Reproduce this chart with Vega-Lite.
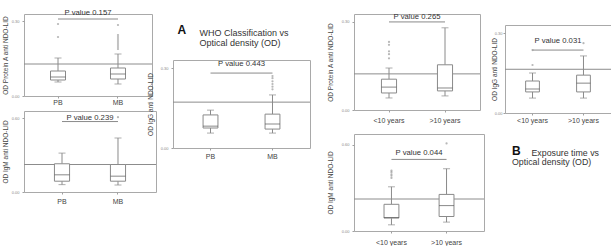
{
  "$schema": "https://vega.github.io/schema/vega-lite/v6.json",
  "padding": {"left": 1, "top": 8, "right": 0, "bottom": 0},
  "background": "white",
  "datasets": {
    "boxes": [
      {"panel": "p1", "group": "PB", "lower": 0.056, "q1": 0.064, "median": 0.076, "q3": 0.1, "upper": 0.152},
      {"panel": "p1", "group": "MB", "lower": 0.048, "q1": 0.068, "median": 0.088, "q3": 0.112, "upper": 0.168},
      {"panel": "p2", "group": "PB", "lower": 0.06, "q1": 0.088, "median": 0.14, "q3": 0.23, "upper": 0.317},
      {"panel": "p2", "group": "MB", "lower": 0.057, "q1": 0.088, "median": 0.129, "q3": 0.224, "upper": 0.44},
      {"panel": "p3", "group": "PB", "lower": 0.056, "q1": 0.075, "median": 0.082, "q3": 0.124, "upper": 0.142},
      {"panel": "p3", "group": "MB", "lower": 0.056, "q1": 0.071, "median": 0.09, "q3": 0.127, "upper": 0.199},
      {"panel": "p4", "group": "<10 years", "lower": 0.041, "q1": 0.058, "median": 0.078, "q3": 0.105, "upper": 0.143},
      {"panel": "p4", "group": ">10 years", "lower": 0.048, "q1": 0.065, "median": 0.075, "q3": 0.154, "upper": 0.28},
      {"panel": "p5", "group": "<10 years", "lower": 0.056, "q1": 0.079, "median": 0.09, "q3": 0.12, "upper": 0.15},
      {"panel": "p5", "group": ">10 years", "lower": 0.056, "q1": 0.079, "median": 0.112, "q3": 0.142, "upper": 0.214},
      {"panel": "p6", "group": "<10 years", "lower": 0.043, "q1": 0.09, "median": 0.094, "q3": 0.186, "upper": 0.308},
      {"panel": "p6", "group": ">10 years", "lower": 0.062, "q1": 0.101, "median": 0.177, "q3": 0.255, "upper": 0.434}
    ],
    "outliers": [
      {"panel": "p1", "group": "PB", "value": 0.288},
      {"panel": "p1", "group": "PB", "value": 0.236},
      {"panel": "p1", "group": "MB", "value": 0.284},
      {"panel": "p1", "group": "MB", "value": 0.244},
      {"panel": "p1", "group": "MB", "value": 0.236},
      {"panel": "p1", "group": "MB", "value": 0.228},
      {"panel": "p1", "group": "MB", "value": 0.22},
      {"panel": "p1", "group": "MB", "value": 0.212},
      {"panel": "p1", "group": "MB", "value": 0.204},
      {"panel": "p1", "group": "MB", "value": 0.196},
      {"panel": "p1", "group": "MB", "value": 0.188},
      {"panel": "p2", "group": "MB", "value": 0.61},
      {"panel": "p3", "group": "MB", "value": 0.27},
      {"panel": "p3", "group": "MB", "value": 0.262},
      {"panel": "p3", "group": "MB", "value": 0.25},
      {"panel": "p3", "group": "MB", "value": 0.24},
      {"panel": "p3", "group": "MB", "value": 0.23},
      {"panel": "p3", "group": "MB", "value": 0.22},
      {"panel": "p4", "group": "<10 years", "value": 0.232},
      {"panel": "p4", "group": "<10 years", "value": 0.222},
      {"panel": "p4", "group": "<10 years", "value": 0.2},
      {"panel": "p4", "group": "<10 years", "value": 0.19},
      {"panel": "p4", "group": "<10 years", "value": 0.176},
      {"panel": "p5", "group": "<10 years", "value": 0.18},
      {"panel": "p5", "group": "<10 years", "value": 0.236},
      {"panel": "p5", "group": ">10 years", "value": 0.262},
      {"panel": "p6", "group": "<10 years", "value": 0.42},
      {"panel": "p6", "group": "<10 years", "value": 0.41},
      {"panel": "p6", "group": "<10 years", "value": 0.395},
      {"panel": "p6", "group": "<10 years", "value": 0.385},
      {"panel": "p6", "group": "<10 years", "value": 0.37},
      {"panel": "p6", "group": ">10 years", "value": 0.61}
    ],
    "refs": [
      {"panel": "p1", "cutoff": 0.128, "from": "PB", "to": "MB", "lineY": 0.308, "pY": 0.332, "pLabel": "P value 0.157"},
      {"panel": "p2", "cutoff": 0.224, "from": "PB", "to": "MB", "lineY": 0.574, "pY": 0.607, "pLabel": "P value 0.239"},
      {"panel": "p3", "cutoff": 0.172, "from": "PB", "to": "MB", "lineY": 0.281, "pY": 0.315, "pLabel": "P value 0.443"},
      {"panel": "p4", "cutoff": 0.123, "from": "<10 years", "to": ">10 years", "lineY": 0.3, "pY": 0.316, "pLabel": "P value 0.265"},
      {"panel": "p5", "cutoff": 0.164, "from": "<10 years", "to": ">10 years", "lineY": 0.236, "pY": 0.27, "pLabel": "P value 0.031"},
      {"panel": "p6", "cutoff": 0.223, "from": "<10 years", "to": ">10 years", "lineY": 0.499, "pY": 0.545, "pLabel": "P value 0.044"}
    ],
    "spacer": [{"k": 0}]
  },
  "hconcat": [
    {
      "spacing": -11,
      "hconcat": [
        {
          "spacing": 4,
          "vconcat": [
            {
              "width": 128, "height": 82,
              "layer": [
                {"data": {"name": "refs"}, "transform": [{"filter": "datum.panel === 'p1'"}], "mark": {"type": "rule", "color": "#8c8c8c"},
                 "encoding": {"y": {"field": "cutoff", "type": "quantitative", "title": "OD Protein A anti NDO-LID", "scale": {"domain": [0, 0.328], "nice": false}, "axis": {"values": [0, 0.1, 0.2, 0.3], "format": ".2f", "titlePadding": 3}}}},
                {"data": {"name": "boxes"}, "transform": [{"filter": "datum.panel === 'p1'"}],
                 "encoding": {"x": {"field": "group", "type": "nominal", "title": null, "scale": {"domain": ["PB", "MB"], "paddingInner": 0, "paddingOuter": 0.067}, "axis": {"labelPadding": 0}}},
                 "layer": [
                   {"mark": {"type": "rule", "color": "#8a8a8a"}, "encoding": {"y": {"field": "lower", "type": "quantitative"}, "y2": {"field": "q1"}}},
                   {"mark": {"type": "rule", "color": "#8a8a8a"}, "encoding": {"y": {"field": "q3", "type": "quantitative"}, "y2": {"field": "upper"}}},
                   {"mark": {"type": "bar", "width": {"band": 0.25}, "fill": "white", "stroke": "#8a8a8a", "strokeWidth": 1}, "encoding": {"y": {"field": "q1", "type": "quantitative"}, "y2": {"field": "q3"}}},
                   {"mark": {"type": "tick", "size": 15, "thickness": 1, "color": "#555"}, "encoding": {"y": {"field": "median", "type": "quantitative"}}},
                   {"mark": {"type": "tick", "size": 7, "thickness": 1, "color": "#8a8a8a"}, "encoding": {"y": {"field": "lower", "type": "quantitative"}}},
                   {"mark": {"type": "tick", "size": 7, "thickness": 1, "color": "#8a8a8a"}, "encoding": {"y": {"field": "upper", "type": "quantitative"}}}
                 ]},
                {"data": {"name": "outliers"}, "transform": [{"filter": "datum.panel === 'p1'"}], "mark": {"type": "point", "size": 5, "filled": true, "color": "#999"},
                 "encoding": {"x": {"field": "group", "type": "nominal", "title": null}, "y": {"field": "value", "type": "quantitative"}}},
                {"data": {"name": "refs"}, "transform": [{"filter": "datum.panel === 'p1'"}], "mark": {"type": "rule", "color": "#8a8a8a"},
                 "encoding": {"x": {"field": "from", "type": "nominal", "title": null}, "x2": {"field": "to"}, "y": {"field": "lineY", "type": "quantitative"}}},
                {"data": {"name": "refs"}, "transform": [{"filter": "datum.panel === 'p1'"}], "mark": {"type": "text", "fontSize": 7.7, "color": "#333", "baseline": "middle"},
                 "encoding": {"x": {"field": "from", "type": "nominal", "title": null, "bandPosition": 1}, "y": {"field": "pY", "type": "quantitative"}, "text": {"field": "pLabel"}}}
              ]
            },
            {
              "width": 132, "height": 81,
              "layer": [
                {"data": {"name": "refs"}, "transform": [{"filter": "datum.panel === 'p2'"}], "mark": {"type": "rule", "color": "#8c8c8c"},
                 "encoding": {"y": {"field": "cutoff", "type": "quantitative", "title": "OD IgM anti NDO-LID", "scale": {"domain": [0, 0.66], "nice": false}, "axis": {"values": [0, 0.1, 0.2, 0.3, 0.4, 0.5, 0.6], "format": ".2f", "titlePadding": 3}}}},
                {"data": {"name": "boxes"}, "transform": [{"filter": "datum.panel === 'p2'"}],
                 "encoding": {"x": {"field": "group", "type": "nominal", "title": null, "scale": {"domain": ["PB", "MB"], "paddingInner": 0, "paddingOuter": 0.179}, "axis": {"labelPadding": 3}}},
                 "layer": [
                   {"mark": {"type": "rule", "color": "#8a8a8a"}, "encoding": {"y": {"field": "lower", "type": "quantitative"}, "y2": {"field": "q1"}}},
                   {"mark": {"type": "rule", "color": "#8a8a8a"}, "encoding": {"y": {"field": "q3", "type": "quantitative"}, "y2": {"field": "upper"}}},
                   {"mark": {"type": "bar", "width": {"band": 0.27}, "fill": "white", "stroke": "#8a8a8a", "strokeWidth": 1}, "encoding": {"y": {"field": "q1", "type": "quantitative"}, "y2": {"field": "q3"}}},
                   {"mark": {"type": "tick", "size": 15, "thickness": 1, "color": "#555"}, "encoding": {"y": {"field": "median", "type": "quantitative"}}},
                   {"mark": {"type": "tick", "size": 7, "thickness": 1, "color": "#8a8a8a"}, "encoding": {"y": {"field": "lower", "type": "quantitative"}}},
                   {"mark": {"type": "tick", "size": 7, "thickness": 1, "color": "#8a8a8a"}, "encoding": {"y": {"field": "upper", "type": "quantitative"}}}
                 ]},
                {"data": {"name": "outliers"}, "transform": [{"filter": "datum.panel === 'p2'"}], "mark": {"type": "point", "size": 5, "filled": true, "color": "#999"},
                 "encoding": {"x": {"field": "group", "type": "nominal", "title": null}, "y": {"field": "value", "type": "quantitative"}}},
                {"data": {"name": "refs"}, "transform": [{"filter": "datum.panel === 'p2'"}], "mark": {"type": "rule", "color": "#8a8a8a"},
                 "encoding": {"x": {"field": "from", "type": "nominal", "title": null}, "x2": {"field": "to"}, "y": {"field": "lineY", "type": "quantitative"}}},
                {"data": {"name": "refs"}, "transform": [{"filter": "datum.panel === 'p2'"}], "mark": {"type": "text", "fontSize": 7.7, "color": "#333", "baseline": "middle"},
                 "encoding": {"x": {"field": "from", "type": "nominal", "title": null, "bandPosition": 1}, "y": {"field": "pY", "type": "quantitative"}, "text": {"field": "pLabel"}}}
              ]
            }
          ]
        },
        {
          "spacing": -8,
          "vconcat": [
            {
              "width": 137, "height": 1,
              "view": {"stroke": null},
              "title": {"text": "A", "orient": "bottom", "anchor": "start", "frame": "group", "dx": 4.5, "offset": 10, "fontSize": 12, "fontWeight": "bold", "color": "#111"},
              "data": {"name": "spacer"},
              "mark": {"type": "text", "text": "", "fontSize": 0},
              "encoding": {}
            },
            {
              "width": 137, "height": 88,
              "title": {"text": ["WHO Classification vs", "Optical density (OD)"], "anchor": "start", "frame": "group", "dx": 26.5, "fontSize": 9, "fontWeight": "normal", "lineHeight": 10, "color": "#333", "offset": 12},
              "layer": [
                {"data": {"name": "refs"}, "transform": [{"filter": "datum.panel === 'p3'"}], "mark": {"type": "rule", "color": "#8c8c8c"},
                 "encoding": {"y": {"field": "cutoff", "type": "quantitative", "title": "OD IgG anti NDO-LID", "scale": {"domain": [0, 0.33], "nice": false}, "axis": {"values": [0, 0.1, 0.2, 0.3], "format": ".2f", "titlePadding": 7}}}},
                {"data": {"name": "boxes"}, "transform": [{"filter": "datum.panel === 'p3'"}],
                 "encoding": {"x": {"field": "group", "type": "nominal", "title": null, "scale": {"domain": ["PB", "MB"], "paddingInner": 0, "paddingOuter": 0.105}, "axis": {"labelPadding": 2}}},
                 "layer": [
                   {"mark": {"type": "rule", "color": "#8a8a8a"}, "encoding": {"y": {"field": "lower", "type": "quantitative"}, "y2": {"field": "q1"}}},
                   {"mark": {"type": "rule", "color": "#8a8a8a"}, "encoding": {"y": {"field": "q3", "type": "quantitative"}, "y2": {"field": "upper"}}},
                   {"mark": {"type": "bar", "width": {"band": 0.24}, "fill": "white", "stroke": "#8a8a8a", "strokeWidth": 1}, "encoding": {"y": {"field": "q1", "type": "quantitative"}, "y2": {"field": "q3"}}},
                   {"mark": {"type": "tick", "size": 15, "thickness": 1, "color": "#555"}, "encoding": {"y": {"field": "median", "type": "quantitative"}}},
                   {"mark": {"type": "tick", "size": 7, "thickness": 1, "color": "#8a8a8a"}, "encoding": {"y": {"field": "lower", "type": "quantitative"}}},
                   {"mark": {"type": "tick", "size": 7, "thickness": 1, "color": "#8a8a8a"}, "encoding": {"y": {"field": "upper", "type": "quantitative"}}}
                 ]},
                {"data": {"name": "outliers"}, "transform": [{"filter": "datum.panel === 'p3'"}], "mark": {"type": "point", "size": 5, "filled": true, "color": "#999"},
                 "encoding": {"x": {"field": "group", "type": "nominal", "title": null}, "y": {"field": "value", "type": "quantitative"}}},
                {"data": {"name": "refs"}, "transform": [{"filter": "datum.panel === 'p3'"}], "mark": {"type": "rule", "color": "#8a8a8a"},
                 "encoding": {"x": {"field": "from", "type": "nominal", "title": null}, "x2": {"field": "to"}, "y": {"field": "lineY", "type": "quantitative"}}},
                {"data": {"name": "refs"}, "transform": [{"filter": "datum.panel === 'p3'"}], "mark": {"type": "text", "fontSize": 7.7, "color": "#333", "baseline": "middle"},
                 "encoding": {"x": {"field": "from", "type": "nominal", "title": null, "bandPosition": 1}, "y": {"field": "pY", "type": "quantitative"}, "text": {"field": "pLabel"}}}
              ]
            }
          ]
        }
      ]
    },
    {
      "spacing": 5,
      "hconcat": [
        {
          "spacing": 9,
          "vconcat": [
            {
              "width": 126, "height": 96,
              "layer": [
                {"data": {"name": "refs"}, "transform": [{"filter": "datum.panel === 'p4'"}], "mark": {"type": "rule", "color": "#8c8c8c"},
                 "encoding": {"y": {"field": "cutoff", "type": "quantitative", "title": "OD Protein A anti NDO-LID", "scale": {"domain": [0, 0.327], "nice": false}, "axis": {"values": [0, 0.1, 0.2, 0.3], "format": ".2f", "titlePadding": 8}}}},
                {"data": {"name": "boxes"}, "transform": [{"filter": "datum.panel === 'p4'"}],
                 "encoding": {"x": {"field": "group", "type": "nominal", "title": null, "scale": {"domain": ["<10 years", ">10 years"], "paddingInner": 0, "paddingOuter": 0.125}, "axis": {"labelPadding": 4}}},
                 "layer": [
                   {"mark": {"type": "rule", "color": "#8a8a8a"}, "encoding": {"y": {"field": "lower", "type": "quantitative"}, "y2": {"field": "q1"}}},
                   {"mark": {"type": "rule", "color": "#8a8a8a"}, "encoding": {"y": {"field": "q3", "type": "quantitative"}, "y2": {"field": "upper"}}},
                   {"mark": {"type": "bar", "width": {"band": 0.27}, "fill": "white", "stroke": "#8a8a8a", "strokeWidth": 1}, "encoding": {"y": {"field": "q1", "type": "quantitative"}, "y2": {"field": "q3"}}},
                   {"mark": {"type": "tick", "size": 15, "thickness": 1, "color": "#555"}, "encoding": {"y": {"field": "median", "type": "quantitative"}}},
                   {"mark": {"type": "tick", "size": 7, "thickness": 1, "color": "#8a8a8a"}, "encoding": {"y": {"field": "lower", "type": "quantitative"}}},
                   {"mark": {"type": "tick", "size": 7, "thickness": 1, "color": "#8a8a8a"}, "encoding": {"y": {"field": "upper", "type": "quantitative"}}}
                 ]},
                {"data": {"name": "outliers"}, "transform": [{"filter": "datum.panel === 'p4'"}], "mark": {"type": "point", "size": 5, "filled": true, "color": "#999"},
                 "encoding": {"x": {"field": "group", "type": "nominal", "title": null}, "y": {"field": "value", "type": "quantitative"}}},
                {"data": {"name": "refs"}, "transform": [{"filter": "datum.panel === 'p4'"}], "mark": {"type": "rule", "color": "#8a8a8a"},
                 "encoding": {"x": {"field": "from", "type": "nominal", "title": null}, "x2": {"field": "to"}, "y": {"field": "lineY", "type": "quantitative"}}},
                {"data": {"name": "refs"}, "transform": [{"filter": "datum.panel === 'p4'"}], "mark": {"type": "text", "fontSize": 7.7, "color": "#333", "baseline": "middle"},
                 "encoding": {"x": {"field": "from", "type": "nominal", "title": null, "bandPosition": 1}, "y": {"field": "pY", "type": "quantitative"}, "text": {"field": "pLabel"}}}
              ]
            },
            {
              "width": 130, "height": 97,
              "layer": [
                {"data": {"name": "refs"}, "transform": [{"filter": "datum.panel === 'p6'"}], "mark": {"type": "rule", "color": "#8c8c8c"},
                 "encoding": {"y": {"field": "cutoff", "type": "quantitative", "title": "OD IgM anti NDO-LID", "scale": {"domain": [0, 0.676], "nice": false}, "axis": {"values": [0, 0.1, 0.2, 0.3, 0.4, 0.5, 0.6], "format": ".2f", "titlePadding": 8}}}},
                {"data": {"name": "boxes"}, "transform": [{"filter": "datum.panel === 'p6'"}],
                 "encoding": {"x": {"field": "group", "type": "nominal", "title": null, "scale": {"domain": ["<10 years", ">10 years"], "paddingInner": 0, "paddingOuter": 0.18}, "axis": {"labelPadding": 5}}},
                 "layer": [
                   {"mark": {"type": "rule", "color": "#8a8a8a"}, "encoding": {"y": {"field": "lower", "type": "quantitative"}, "y2": {"field": "q1"}}},
                   {"mark": {"type": "rule", "color": "#8a8a8a"}, "encoding": {"y": {"field": "q3", "type": "quantitative"}, "y2": {"field": "upper"}}},
                   {"mark": {"type": "bar", "width": {"band": 0.27}, "fill": "white", "stroke": "#8a8a8a", "strokeWidth": 1}, "encoding": {"y": {"field": "q1", "type": "quantitative"}, "y2": {"field": "q3"}}},
                   {"mark": {"type": "tick", "size": 15, "thickness": 1, "color": "#555"}, "encoding": {"y": {"field": "median", "type": "quantitative"}}},
                   {"mark": {"type": "tick", "size": 7, "thickness": 1, "color": "#8a8a8a"}, "encoding": {"y": {"field": "lower", "type": "quantitative"}}},
                   {"mark": {"type": "tick", "size": 7, "thickness": 1, "color": "#8a8a8a"}, "encoding": {"y": {"field": "upper", "type": "quantitative"}}}
                 ]},
                {"data": {"name": "outliers"}, "transform": [{"filter": "datum.panel === 'p6'"}], "mark": {"type": "point", "size": 5, "filled": true, "color": "#999"},
                 "encoding": {"x": {"field": "group", "type": "nominal", "title": null}, "y": {"field": "value", "type": "quantitative"}}},
                {"data": {"name": "refs"}, "transform": [{"filter": "datum.panel === 'p6'"}], "mark": {"type": "rule", "color": "#8a8a8a"},
                 "encoding": {"x": {"field": "from", "type": "nominal", "title": null}, "x2": {"field": "to"}, "y": {"field": "lineY", "type": "quantitative"}}},
                {"data": {"name": "refs"}, "transform": [{"filter": "datum.panel === 'p6'"}], "mark": {"type": "text", "fontSize": 7.7, "color": "#333", "baseline": "middle"},
                 "encoding": {"x": {"field": "from", "type": "nominal", "title": null, "bandPosition": 1}, "y": {"field": "pY", "type": "quantitative"}, "text": {"field": "pLabel"}}}
              ]
            }
          ]
        },
        {
          "spacing": 9,
          "vconcat": [
            {
              "width": 106, "height": 1,
              "view": {"stroke": null},
              "data": {"name": "spacer"},
              "mark": {"type": "text", "text": "", "fontSize": 0},
              "encoding": {}
            },
            {
              "width": 106, "height": 88,
              "title": {"text": "B", "subtitle": "Optical density (OD)", "orient": "bottom", "anchor": "start", "frame": "group", "dx": 7, "dy": -10.5, "fontSize": 12, "fontWeight": "bold", "color": "#111", "subtitleFontSize": 8.8, "subtitleColor": "#333", "subtitlePadding": 0, "offset": 0},
              "layer": [
                {"data": {"name": "refs"}, "transform": [{"filter": "datum.panel === 'p5'"}], "mark": {"type": "rule", "color": "#8c8c8c"},
                 "encoding": {"y": {"field": "cutoff", "type": "quantitative", "title": "OD IgG anti NDO-LID", "scale": {"domain": [0, 0.33], "nice": false}, "axis": {"values": [0, 0.1, 0.2, 0.3], "format": ".2f", "titlePadding": -3, "labelPadding": 1}}}},
                {"data": {"name": "boxes"}, "transform": [{"filter": "datum.panel === 'p5'"}],
                 "encoding": {"x": {"field": "group", "type": "nominal", "title": "Exposure time vs", "scale": {"domain": ["<10 years", ">10 years"], "paddingInner": 0, "paddingOuter": 0.04}, "axis": {"labelPadding": 1, "titleX": 26, "titleY": 39, "titleAlign": "left", "titleBaseline": "middle", "titleAngle": 0, "titleFontSize": 8.8, "titleFontWeight": "normal", "titleColor": "#333"}}},
                 "layer": [
                   {"mark": {"type": "rule", "color": "#8a8a8a"}, "encoding": {"y": {"field": "lower", "type": "quantitative"}, "y2": {"field": "q1"}}},
                   {"mark": {"type": "rule", "color": "#8a8a8a"}, "encoding": {"y": {"field": "q3", "type": "quantitative"}, "y2": {"field": "upper"}}},
                   {"mark": {"type": "bar", "width": {"band": 0.27}, "fill": "white", "stroke": "#8a8a8a", "strokeWidth": 1}, "encoding": {"y": {"field": "q1", "type": "quantitative"}, "y2": {"field": "q3"}}},
                   {"mark": {"type": "tick", "size": 14, "thickness": 1, "color": "#555"}, "encoding": {"y": {"field": "median", "type": "quantitative"}}},
                   {"mark": {"type": "tick", "size": 7, "thickness": 1, "color": "#8a8a8a"}, "encoding": {"y": {"field": "lower", "type": "quantitative"}}},
                   {"mark": {"type": "tick", "size": 7, "thickness": 1, "color": "#8a8a8a"}, "encoding": {"y": {"field": "upper", "type": "quantitative"}}}
                 ]},
                {"data": {"name": "outliers"}, "transform": [{"filter": "datum.panel === 'p5'"}], "mark": {"type": "point", "size": 5, "filled": true, "color": "#999"},
                 "encoding": {"x": {"field": "group", "type": "nominal"}, "y": {"field": "value", "type": "quantitative"}}},
                {"data": {"name": "refs"}, "transform": [{"filter": "datum.panel === 'p5'"}], "mark": {"type": "rule", "color": "#8a8a8a"},
                 "encoding": {"x": {"field": "from", "type": "nominal"}, "x2": {"field": "to"}, "y": {"field": "lineY", "type": "quantitative"}}},
                {"data": {"name": "refs"}, "transform": [{"filter": "datum.panel === 'p5'"}], "mark": {"type": "text", "fontSize": 7.7, "color": "#333", "baseline": "middle"},
                 "encoding": {"x": {"field": "from", "type": "nominal", "bandPosition": 1}, "y": {"field": "pY", "type": "quantitative"}, "text": {"field": "pLabel"}}}
              ]
            }
          ]
        }
      ]
    }
  ],
  "spacing": 15,
  "config": {
    "font": "Liberation Sans",
    "view": {"stroke": "#a9a9a9", "strokeWidth": 1},
    "axis": {"grid": false, "domain": false, "tickColor": "#a0a0a0", "tickSize": 2, "labelColor": "#555", "titleColor": "#444", "titleFontWeight": "normal", "titleFont": "Liberation Sans", "labelFont": "Liberation Sans"},
    "axisY": {"labelFontSize": 4, "titleFontSize": 6.5, "labelPadding": 3, "labelColor": "#888"},
    "axisX": {"labelFontSize": 7, "labelAngle": 0, "labelColor": "#444"},
    "title": {"font": "Liberation Sans", "subtitleFont": "Liberation Sans"}
  }
}
